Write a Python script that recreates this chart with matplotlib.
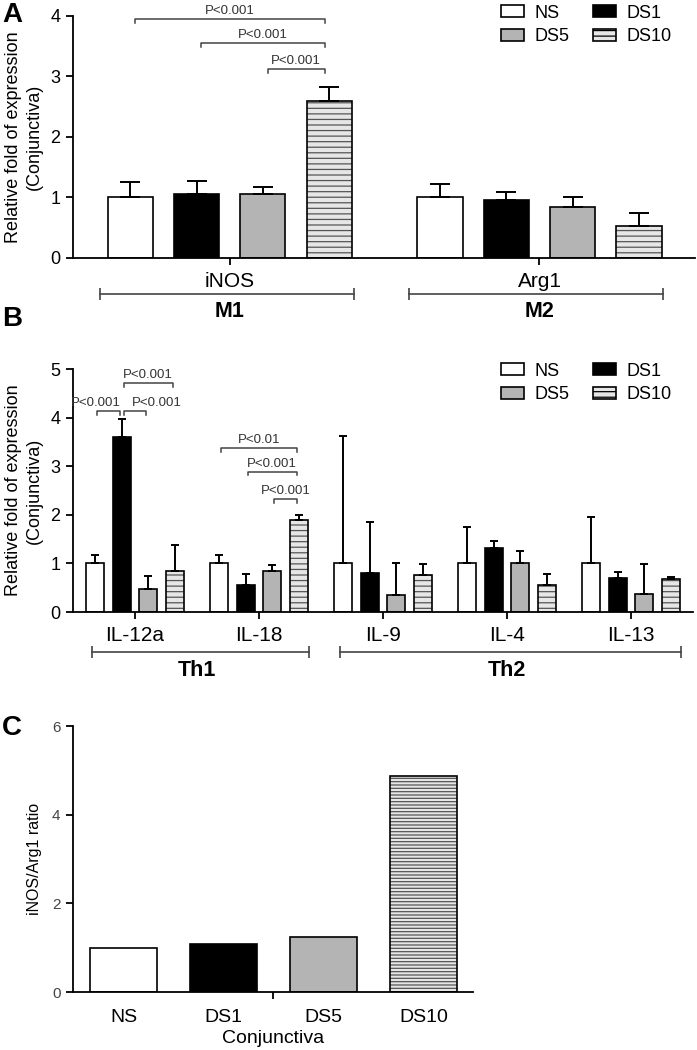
import numpy as np
import matplotlib.pyplot as plt
from matplotlib.patches import Patch

plt.rcParams['font.family'] = ['Liberation Sans', 'DejaVu Sans']
plt.rcParams['hatch.linewidth'] = 0.9

groups = ['NS', 'DS1', 'DS5', 'DS10']
fills = ['white', 'black', '#b4b4b4', '#e6e6e6']

# panel A - macrophage markers
a_genes = ['iNOS', 'Arg1']
a_ns = [1.00, 1.00]
a_ns_err = [0.25, 0.23]
a_ds1 = [1.05, 0.96]
a_ds1_err = [0.23, 0.13]
a_ds5 = [1.05, 0.84]
a_ds5_err = [0.13, 0.17]
a_ds10 = [2.60, 0.53]
a_ds10_err = [0.22, 0.22]
a_types = ['M1', 'M2']
a_type_genes = [(0, 0), (1, 1)]
# gene, from group, to group, height, text, text alignment
a_sig = [(0, 0, 3, 3.95, 'P<0.001', 'center'),
         (0, 1, 3, 3.55, 'P<0.001', 'center'),
         (0, 2, 3, 3.12, 'P<0.001', 'center')]

# panel B - cytokines
b_genes = ['IL-12a', 'IL-18', 'IL-9', 'IL-4', 'IL-13']
b_ns = [1.00, 1.00, 1.00, 1.00, 1.00]
b_ns_err = [0.17, 0.18, 2.63, 0.76, 0.95]
b_ds1 = [3.60, 0.55, 0.80, 1.32, 0.71]
b_ds1_err = [0.37, 0.23, 1.05, 0.15, 0.12]
b_ds5 = [0.47, 0.84, 0.35, 1.00, 0.38]
b_ds5_err = [0.27, 0.13, 0.65, 0.25, 0.60]
b_ds10 = [0.84, 1.90, 0.76, 0.55, 0.69]
b_ds10_err = [0.54, 0.10, 0.22, 0.24, 0.03]
b_types = ['Th1', 'Th2']
b_type_genes = [(0, 1), (2, 4)]
b_sig = [(0, 1, 3, 4.72, 'P<0.001', 'center'),
         (0, 0, 1, 4.14, 'P<0.001', 'right'),
         (0, 1, 2, 4.14, 'P<0.001', 'left'),
         (1, 0, 3, 3.38, 'P<0.01', 'center'),
         (1, 1, 3, 2.89, 'P<0.001', 'center'),
         (1, 2, 3, 2.33, 'P<0.001', 'center')]

# panel C - ratio
c_ratio = [1.00, 1.09, 1.25, 4.88]

pitch = 0.214
width = 0.146
offsets = (np.arange(4) - 1.5) * pitch


def style_axis(ax, fs):
    for s in ['top', 'right']:
        ax.spines[s].set_visible(False)
    for s in ['left', 'bottom']:
        ax.spines[s].set_linewidth(1.3)
    ax.tick_params(axis='y', direction='out', length=5, width=1.3, labelsize=fs, pad=4)


def draw_groups(ax, means, errs, capsize, hatch):
    x = np.arange(len(means[0]))
    for i in range(4):
        xi = x + offsets[i]
        if groups[i] == 'DS10':
            ax.bar(xi, means[i], width, color=fills[i], edgecolor='#555555', hatch=hatch, linewidth=0, zorder=2)
            ax.bar(xi, means[i], width, fill=False, edgecolor='black', linewidth=1.2, zorder=2)
        else:
            ax.bar(xi, means[i], width, color=fills[i], edgecolor='black', linewidth=1.2, zorder=2)
        ax.errorbar(xi, means[i], yerr=[np.zeros(len(errs[i])), errs[i]], fmt='none', ecolor='black',
                    elinewidth=1.4, capsize=capsize, capthick=1.4, zorder=3)


def sig_brackets(ax, sig, drop):
    for g, i1, i2, h, txt, align in sig:
        x1 = g + offsets[i1] + 0.015
        x2 = g + offsets[i2] - 0.015
        ax.plot([x1, x1, x2, x2], [h - drop, h, h, h - drop], color='#444444', lw=1.1, clip_on=False)
        if align == 'center':
            tx, ha = (x1 + x2) / 2, 'center'
        elif align == 'right':
            tx, ha = x2 + 0.01, 'right'
        else:
            tx, ha = x1 + 0.07, 'left'
        ax.annotate(txt, (tx, h), xytext=(0, 1.5), textcoords='offset points', ha=ha, va='bottom',
                    fontsize=9.5, color='#333333', annotation_clip=False)


def type_brackets(ax, types, spans, y_line, y_text, lo, hi):
    tr = ax.get_xaxis_transform()
    for name, (g1, g2) in zip(types, spans):
        x1, x2 = g1 - lo, g2 + hi
        ax.plot([x1, x2], [y_line, y_line], color='#444444', lw=1.2, marker='|', markersize=8,
                markeredgewidth=1.2, transform=tr, clip_on=False)
        ax.text((g1 + g2) / 2, y_text, name, transform=tr, ha='center', va='center',
                fontsize=15.5, fontweight='bold')


def legend(ax, x, y):
    handles = []
    for i in [0, 2, 1, 3]:
        handles.append(Patch(facecolor=fills[i], edgecolor='black', linewidth=1.2,
                             hatch='---' if groups[i] == 'DS10' else None, label=groups[i]))
    ax.legend(handles=handles, ncol=2, loc='upper left', bbox_to_anchor=(x, y),
              bbox_transform=ax.figure.transFigure, frameon=False, fontsize=13,
              handlelength=1.25, handleheight=0.65, handletextpad=0.6, columnspacing=1.3,
              labelspacing=0.35, borderpad=0, borderaxespad=0)


fig = plt.figure(figsize=(6.97, 10.5), dpi=100)

# ---------------- A
ax = fig.add_axes([0.1047, 0.7543, 0.8924, 0.2305])
draw_groups(ax, [a_ns, a_ds1, a_ds5, a_ds10], [a_ns_err, a_ds1_err, a_ds5_err, a_ds10_err], 7, '---')
ax.set_xlim(-0.506, 1.502)
ax.set_ylim(0, 4)
ax.set_yticks([0, 1, 2, 3, 4])
style_axis(ax, 13)
ax.set_xticks(range(len(a_genes)))
ax.set_xticklabels(a_genes, fontsize=15)
ax.tick_params(axis='x', direction='out', length=5, width=1.3, pad=5)
ax.set_ylabel('Relative fold of expression\n(Conjunctiva)', fontsize=13, linespacing=1.3)
ax.yaxis.set_label_coords(-0.048, 0.5)
sig_brackets(ax, a_sig, 0.06)
type_brackets(ax, a_types, a_type_genes, -0.149, -0.222, 0.42, 0.40)
legend(ax, 0.719, 0.9955)

# ---------------- B
ax = fig.add_axes([0.1047, 0.4171, 0.8895, 0.2314])
draw_groups(ax, [b_ns, b_ds1, b_ds5, b_ds10], [b_ns_err, b_ds1_err, b_ds5_err, b_ds10_err], 3, '---')
ax.set_xlim(-0.5, 4.5)
ax.set_ylim(0, 5)
ax.set_yticks([0, 1, 2, 3, 4, 5])
style_axis(ax, 13)
ax.set_xticks(range(len(b_genes)))
ax.set_xticklabels(b_genes, fontsize=15)
ax.tick_params(axis='x', direction='out', length=5, width=1.3, pad=5)
ax.set_ylabel('Relative fold of expression\n(Conjunctiva)', fontsize=13, linespacing=1.3)
ax.yaxis.set_label_coords(-0.048, 0.5)
sig_brackets(ax, b_sig, 0.08)
type_brackets(ax, b_types, b_type_genes, -0.165, -0.24, 0.35, 0.4)
legend(ax, 0.719, 0.6545)

# ---------------- C
ax = fig.add_axes([0.1047, 0.0552, 0.5739, 0.2533])
xc = np.arange(len(groups))
for i in range(4):
    if groups[i] == 'DS10':
        ax.bar(xc[i], c_ratio[i], 0.67, color=fills[i], edgecolor='#555555', hatch='-----', linewidth=0, zorder=2)
        ax.bar(xc[i], c_ratio[i], 0.67, fill=False, edgecolor='black', linewidth=1.2, zorder=2)
    else:
        ax.bar(xc[i], c_ratio[i], 0.67, color=fills[i], edgecolor='black', linewidth=1.2, zorder=2)
ax.set_xlim(-0.505, 3.495)
ax.set_ylim(0, 6)
ax.set_yticks([0, 2, 4, 6])
style_axis(ax, 11)
for lab in ax.get_yticklabels():
    lab.set_color('#444444')
ax.set_xticks(xc)
ax.set_xticklabels(groups, fontsize=14)
ax.tick_params(axis='x', length=0, pad=12)
ax.set_xticks([1.5], minor=True)
ax.tick_params(axis='x', which='minor', direction='out', length=5, width=1.3)
ax.set_xlabel('Conjunctiva', fontsize=14, labelpad=3)
ax.set_ylabel('iNOS/Arg1 ratio', fontsize=11.5)
ax.yaxis.set_label_coords(-0.078, 0.5)

# panel letters
fig.text(0.003, 0.998, 'A', fontsize=20, fontweight='bold', va='top')
fig.text(0.003, 0.709, 'B', fontsize=20, fontweight='bold', va='top')
fig.text(0.003, 0.319, 'C', fontsize=20, fontweight='bold', va='top')

fig.savefig('out.png', dpi=100)
